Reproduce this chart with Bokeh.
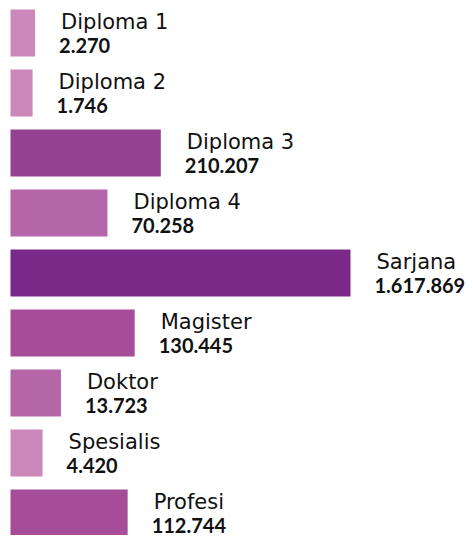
from bokeh.plotting import figure
from bokeh.models import ColumnDataSource, Range1d
from bokeh.core.properties import value
from bokeh.embed import file_html
from bokeh.resources import INLINE

categories = ["Diploma 1", "Diploma 2", "Diploma 3", "Diploma 4", "Sarjana",
              "Magister", "Doktor", "Spesialis", "Profesi"]
counts = [2270, 1746, 210207, 70258, 1617869, 130445, 13723, 4420, 112744]
count_labels = ["2.270", "1.746", "210.207", "70.258", "1.617.869",
                "130.445", "13.723", "4.420", "112.744"]

# style: bar colours (lighter for smaller groups)
bar_colors = ["#CB88BB", "#CB88BB", "#954191", "#B466A8", "#7B2989",
              "#A54D98", "#B466A8", "#CB88BB", "#A54D98"]

W, H = 465, 535
POWER = 0.4
lengths = [c ** POWER for c in counts]
rows = [-i for i in range(len(categories))]

src = ColumnDataSource(dict(y=rows, length=lengths, name=categories,
                            lab=count_labels, color=bar_colors))

LEFT_PX = 10
px_per_unit = 340 / max(lengths)
pitch = 60.0
bar_h = 47.0
p = figure(width=W, height=H, output_backend="svg", toolbar_location=None,
           min_border=0, outline_line_color=None)
p.x_range = Range1d(-LEFT_PX / px_per_unit, (W - LEFT_PX) / px_per_unit)
top = (9 + bar_h / 2) / pitch
p.y_range = Range1d(top - H / pitch, top)
p.axis.visible = False
p.grid.visible = False
p.background_fill_color = "white"
p.border_fill_color = "white"

p.hbar(y="y", left=0, right="length", height=bar_h / pitch, color="color",
       line_color=None, source=src)

p.text(x="length", y="y", text="name", source=src, x_offset=26, y_offset=-11,
       text_font=value("DejaVu Sans"), text_font_size="21px",
       text_baseline="alphabetic", text_color="#111111")
p.text(x="length", y="y", text="lab", source=src, x_offset=24, y_offset=12,
       text_font=value("Lato"), text_font_size="20px", text_font_style="bold",
       text_baseline="alphabetic", text_color="#111111")

open("out.html", "w").write(file_html(p, INLINE))
